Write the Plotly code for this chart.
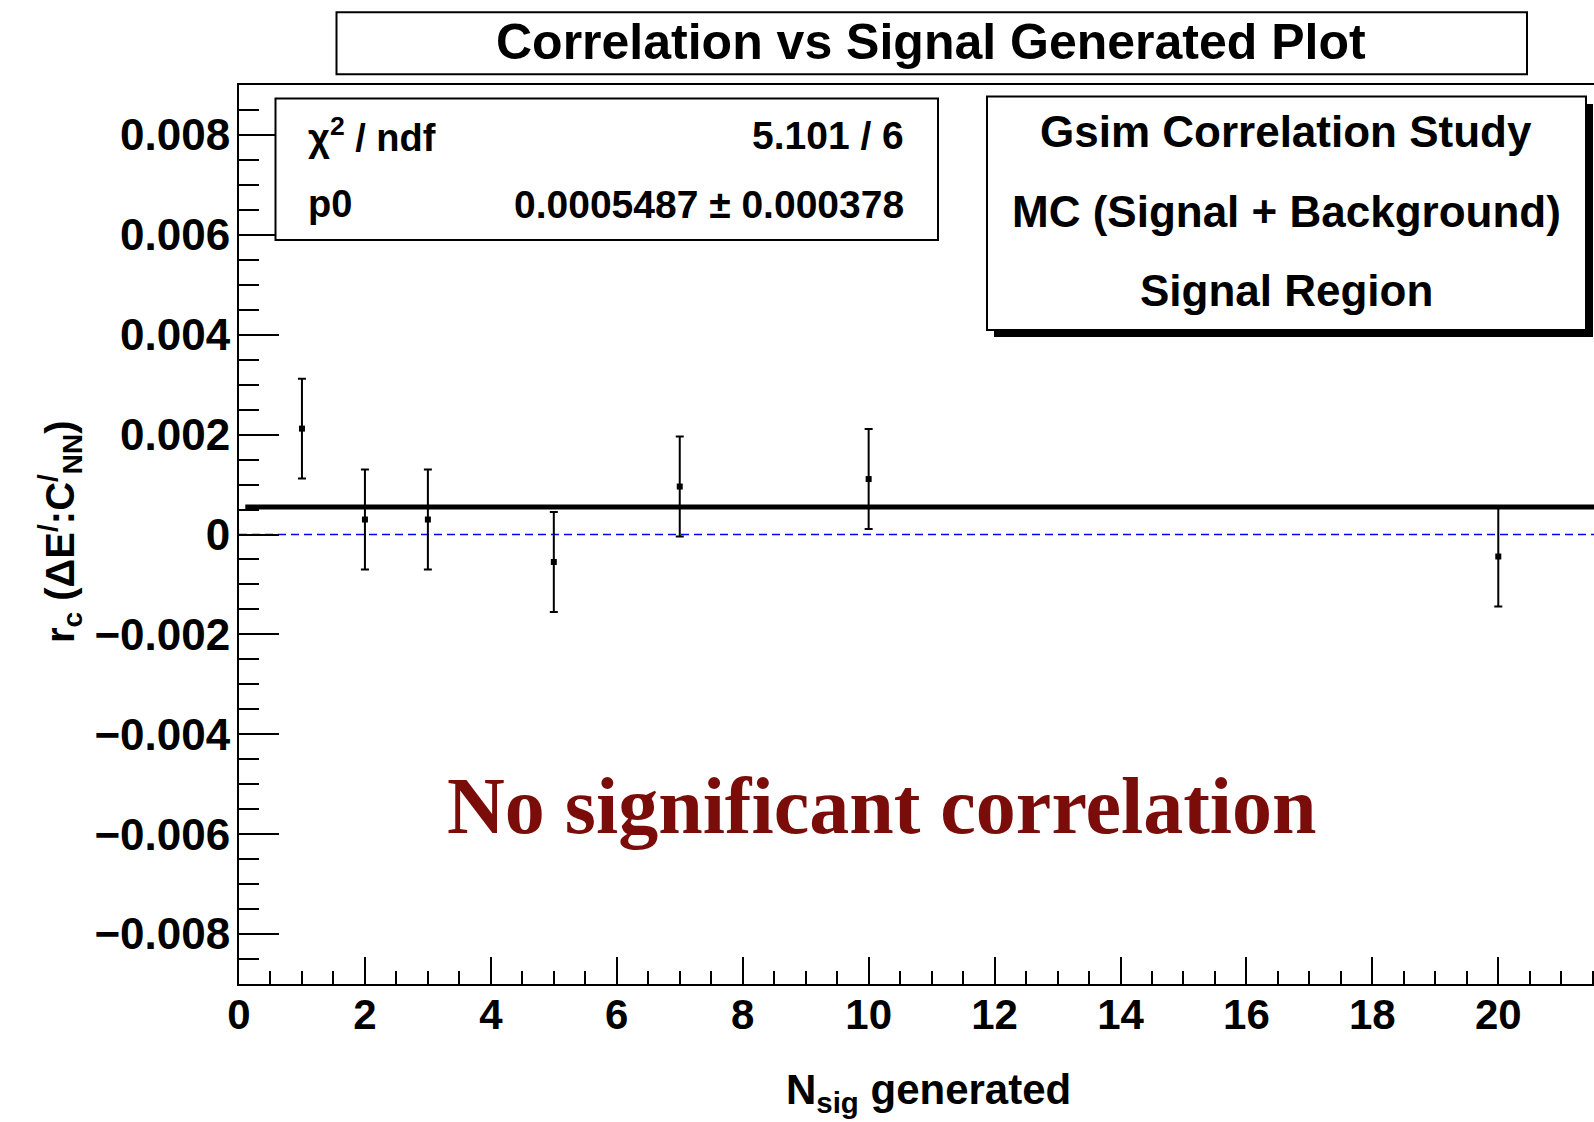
import plotly.graph_objects as go

# ---------------- data ----------------
n_sig = [1, 2, 3, 5, 7, 10, 20]
r_c = [0.00212, 0.00030, 0.00030, -0.00055, 0.00096, 0.00111, -0.00044]
r_c_err = [0.0010, 0.0010, 0.0010, 0.0010, 0.0010, 0.0010, 0.0010]
fit_p0 = 0.0005487
fit_range = [0.1, 21.52]
x_range = [0.0, 21.52]
y_range = [-0.009, 0.009]

x_tickvals = [0, 2, 4, 6, 8, 10, 12, 14, 16, 18, 20]
x_ticktext = ["0", "2", "4", "6", "8", "10", "12", "14", "16", "18", "20"]
y_tickvals = [-0.008, -0.006, -0.004, -0.002, 0, 0.002, 0.004, 0.006, 0.008]
y_ticktext = ["\u22120.008", "\u22120.006", "\u22120.004", "\u22120.002", "0",
              "0.002", "0.004", "0.006", "0.008"]

title_text = "Correlation vs Signal Generated Plot"
stats_rows = [("\u03c7<sup>2</sup> / ndf", "5.101 / 6"),
              ("p0", "0.0005487 \u00b1 0.000378")]
legend_lines = ["Gsim Correlation Study", "MC (Signal + Background)", "Signal Region"]
note_text = "No significant correlation"

# ---------------- geometry helpers (pixel -> paper) ----------------
W, H = 1594, 1122
ML, MR, MT, MB = 239, 0, 85, 138
PW, PH = W - ML - MR, H - MT - MB


def px(x):
    return (x - ML) / PW


def py(y):
    return (H - MB - y) / PH


SANS = "Liberation Sans, Arial, Helvetica, sans-serif"
SERIF = "Liberation Serif, Times New Roman, serif"

fig = go.Figure()

# zero reference line (blue dashed)
fig.add_trace(go.Scatter(
    x=x_range, y=[0, 0], mode="lines",
    line=dict(color="#0000ff", width=1.5, dash="8px,5px"),
    hoverinfo="skip", showlegend=False))

# data points with error bars
fig.add_trace(go.Scatter(
    x=n_sig, y=r_c, mode="markers",
    marker=dict(symbol="square", size=6, color="black"),
    error_y=dict(type="data", array=r_c_err, visible=True,
                 color="black", thickness=2, width=4),
    showlegend=False))

# constant fit line
fig.add_trace(go.Scatter(
    x=fit_range, y=[fit_p0, fit_p0], mode="lines",
    line=dict(color="black", width=5),
    hoverinfo="skip", showlegend=False))

shapes = []
annotations = []

# title box
shapes.append(dict(type="rect", xref="paper", yref="paper",
                   x0=px(336.5), x1=px(1527), y0=py(74.2), y1=py(12.2),
                   line=dict(color="black", width=2), fillcolor="white"))
annotations.append(dict(xref="paper", yref="paper", x=px(931), y=py(42),
                        text=title_text, showarrow=False,
                        xanchor="center", yanchor="middle",
                        font=dict(family=SANS, size=50, color="black", weight="bold")))

# stats box
shapes.append(dict(type="rect", xref="paper", yref="paper",
                   x0=px(275.5), x1=px(938), y0=py(240), y1=py(98.6),
                   line=dict(color="black", width=2), fillcolor="white"))
for (lab, val), yc in zip(stats_rows, [135, 204]):
    annotations.append(dict(xref="paper", yref="paper", x=px(306), y=py(yc),
                            text=lab, showarrow=False, xanchor="left", yanchor="middle",
                            font=dict(family=SANS, size=38, color="black", weight="bold")))
    annotations.append(dict(xref="paper", yref="paper", x=px(906), y=py(yc),
                            text=val, showarrow=False, xanchor="right", yanchor="middle",
                            font=dict(family=SANS, size=39, color="black", weight="bold")))

# legend box with shadow
shapes.append(dict(type="rect", xref="paper", yref="paper",
                   x0=px(994), x1=px(1593), y0=py(337), y1=py(104),
                   line=dict(color="black", width=0), fillcolor="black"))
shapes.append(dict(type="rect", xref="paper", yref="paper",
                   x0=px(987), x1=px(1586), y0=py(330), y1=py(96.6),
                   line=dict(color="black", width=2), fillcolor="white"))
for txt, yc in zip(legend_lines, [132, 211, 290]):
    annotations.append(dict(xref="paper", yref="paper", x=px(1286), y=py(yc),
                            text=txt, showarrow=False, xanchor="center", yanchor="middle",
                            font=dict(family=SANS, size=44, color="black", weight="bold")))

# note
annotations.append(dict(xref="paper", yref="paper", x=px(882), y=py(806),
                        text=note_text, showarrow=False, xanchor="center", yanchor="middle",
                        font=dict(family=SERIF, size=80, color="#7a0d0a", weight="bold")))

# axis titles
annotations.append(dict(xref="paper", yref="paper", x=px(60), y=py(532),
                        text="r<sub>c</sub> (\u0394E<sup>/</sup>:C<sup>/</sup><sub>NN</sub>)",
                        showarrow=False, textangle=-90,
                        xanchor="center", yanchor="middle",
                        font=dict(family=SANS, size=40, color="black", weight="bold")))
annotations.append(dict(xref="paper", yref="paper", x=px(1073), y=py(1092),
                        text="N<sub>sig</sub> generated",
                        showarrow=False, xanchor="right", yanchor="middle",
                        font=dict(family=SANS, size=42, color="black", weight="bold")))

fig.update_layout(
    width=W, height=H,
    margin=dict(l=ML, r=MR, t=MT, b=MB, pad=0),
    paper_bgcolor="white", plot_bgcolor="white",
    shapes=shapes, annotations=annotations,
    showlegend=False,
)

fig.update_xaxes(
    range=x_range, showgrid=False, zeroline=False,
    showline=True, linecolor="black", linewidth=2, mirror=True,
    tickmode="array", tickvals=x_tickvals, ticktext=x_ticktext,
    ticks="inside", ticklen=27, tickwidth=1.5, tickcolor="black",
    minor=dict(ticks="inside", ticklen=13, tickwidth=1.5, tickcolor="black",
               tickmode="linear", tick0=0, dtick=0.5, showgrid=False),
    tickfont=dict(family=SANS, size=42, color="black", weight="bold"),
    ticklabelstandoff=-7,
)
fig.update_yaxes(
    range=y_range, showgrid=False, zeroline=False,
    showline=True, linecolor="black", linewidth=2, mirror=False,
    tickmode="array", tickvals=y_tickvals, ticktext=y_ticktext,
    ticks="inside", ticklen=40, tickwidth=1.5, tickcolor="black",
    minor=dict(ticks="inside", ticklen=20, tickwidth=1.5, tickcolor="black",
               tickmode="linear", tick0=0, dtick=0.0005, showgrid=False),
    tickfont=dict(family=SANS, size=44, color="black", weight="bold"),
    ticklabelstandoff=-2,
)

fig.write_html("out.html")
